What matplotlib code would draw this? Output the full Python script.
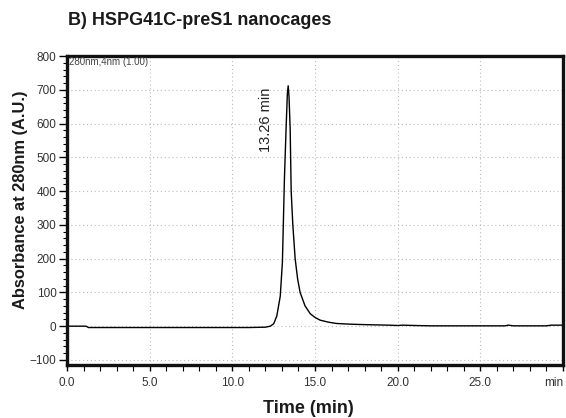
import numpy as np
import matplotlib.pyplot as plt
from matplotlib.ticker import MultipleLocator, FixedLocator

# Chromatogram trace (time in min, absorbance in A.U.)
time_min = [0.0, 1.15, 1.3, 3.0, 6.0, 9.0, 11.0, 12.0, 12.3, 12.5, 12.69,
            12.9, 13.03, 13.15, 13.25, 13.33, 13.38, 13.43, 13.5, 13.56,
            13.66, 13.8, 13.95, 14.1, 14.4, 14.71, 15.0, 15.3, 15.8, 16.3,
            17.1, 17.7, 18.5, 19.5, 20.0, 20.3, 21.0, 22.0, 23.0, 24.0,
            25.0, 26.0, 26.5, 26.7, 27.0, 28.0, 29.0, 29.3, 30.0]
absorbance = [0, 0, -4, -4, -4, -4, -4, -3, 0, 7, 30,
              89, 190, 434, 582, 690, 712, 680, 582, 400,
              300, 200, 140, 100, 60, 37, 26, 18, 12, 8,
              6, 5, 4, 3, 2, 3, 2, 1, 1, 1,
              1, 1, 1, 3, 1, 1, 1, 3, 3]

x_ticks = [0, 5, 10, 15, 20, 25, 30]
x_tick_labels = ['0.0', '5.0', '10.0', '15.0', '20.0', '25.0', 'min']
y_ticks = [-100, 0, 100, 200, 300, 400, 500, 600, 700, 800]

peak_label = '13.26 min'
peak_pos = (12.05, 611)

tick_font = ['Liberation Sans', 'DejaVu Sans']
text_font = ['Liberation Sans', 'DejaVu Sans']

figure = plt.figure(figsize=(5.66, 4.18), dpi=100)
figure.patch.set_facecolor('white')
axes = figure.add_axes([0.1184, 0.1268, 0.8762, 0.739])

axes.plot(time_min, absorbance, color='black', linewidth=1.0)

axes.set_xlim(0, 30)
axes.set_ylim(-115, 800)

axes.xaxis.set_major_locator(FixedLocator(x_ticks))
axes.set_xticklabels(x_tick_labels)
axes.xaxis.set_minor_locator(MultipleLocator(1))
axes.yaxis.set_major_locator(FixedLocator(y_ticks))
axes.yaxis.set_minor_locator(MultipleLocator(20))

for label in axes.get_xticklabels() + axes.get_yticklabels():
    label.set_fontfamily(tick_font)
    label.set_fontsize(8.5)
    label.set_color('#333333')
axes.get_xticklabels()[-1].set_horizontalalignment('right')

axes.tick_params(which='major', direction='out', length=6, width=1.0, pad=1.5)
axes.tick_params(which='minor', direction='out', length=3, width=0.8)
axes.tick_params(axis='x', which='both', length=4, pad=5)

for spine in axes.spines.values():
    spine.set_linewidth(2.4)
    spine.set_color('#111111')

# dotted grid at the major ticks
for xv in x_ticks[1:-1]:
    axes.axvline(xv, color='#bbbbbb', linestyle=(0, (1, 2.5)), linewidth=0.8, zorder=0)
for yv in y_ticks[:-1]:
    axes.axhline(yv, color='#bbbbbb', linestyle=(0, (1, 2.5)), linewidth=0.8, zorder=0)

axes.text(0.004, 0.998, '280nm,4nm (1.00)', transform=axes.transAxes,
          ha='left', va='top', fontsize=7, color='#444444', family=tick_font)

axes.text(peak_pos[0], peak_pos[1], peak_label, rotation=90, ha='center', va='center',
          fontsize=10.5, family=text_font, color='#222222')

figure.text(0.12, 0.95, 'B) HSPG41C-preS1 nanocages', ha='left', va='center',
            fontsize=13, fontweight='bold', family=text_font, color='#1a1a1a')
axes.set_ylabel('Absorbance at 280nm (A.U.)', fontsize=11.8, fontweight='bold',
                family=text_font, color='#1a1a1a')
axes.yaxis.set_label_coords(-0.079, 0.536)
figure.text(0.544, 0.012, 'Time (min)', ha='center', va='baseline',
            fontsize=13, fontweight='bold', family=text_font, color='#1a1a1a')

figure.savefig('out.png', dpi=100)
